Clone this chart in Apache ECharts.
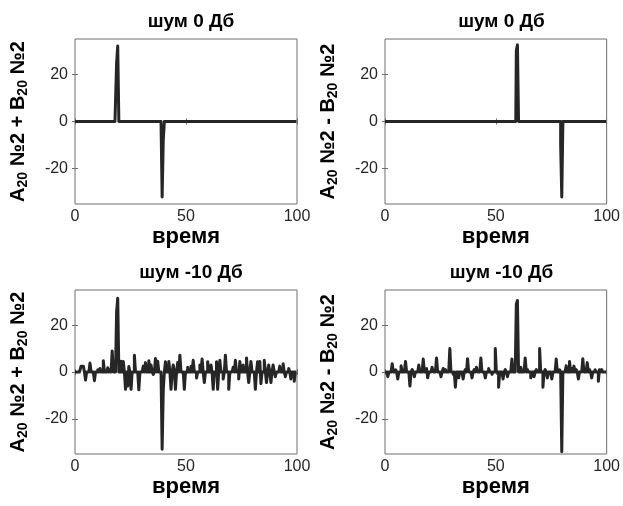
<!DOCTYPE html>
<html><head><meta charset="utf-8">
<script src="https://cdn.jsdelivr.net/npm/echarts@6/dist/echarts.min.js"></script>
<style>html,body{margin:0;padding:0;background:#fff}#c{width:623px;height:506px}</style>
</head><body><div id="c"></div>
<script>
// sampling grid: 0..100 every 0.5 time units
const timeSamples = Array.from({length: 201}, (_, i) => i * 0.5);

// non-zero samples [time, value]; all other samples are 0
// top-left: noise 0 dB, A + B
const sumCleanPulses = [[19, 25], [19.5, 32], [39.5, -32], [40, -8]];
// top-right: noise 0 dB, A - B
const diffCleanPulses = [[59.5, 30], [60, 32.5], [79.5, -10], [80, -32]];
// bottom-left: noise -10 dB, A + B
const sumNoisyPulses = [
  [3, 2.5], [3.5, 2.5], [4, 2.5], [5, -3.4], [7, 3.8], [9, -3.7], [10.5, 1], [11.5, 1.5],
  [13, 4.8], [15, 1.8], [16, 1], [17, 9], [19, 26], [19.5, 31.5], [21, 4.6], [22, 4.5],
  [23, -7.4], [24, -6], [24.5, 2.3], [25.5, -7.4], [27, 7.2], [29, -7.6], [31, 2.5],
  [32, 4], [33.5, 4.8], [34.5, 3], [35.5, -1], [36.5, 5.8], [37.5, 4.6], [39.5, -33],
  [40, -8], [41, 4.4], [42.5, 4.5], [43.5, -7.4], [44.5, 3], [45.5, -7.4], [46.5, 4],
  [47.5, 7.2], [49.5, -7.4], [51, 2], [52.5, 2.5], [53.5, 5], [55, -2.6], [56.5, 3],
  [57.5, 5.5], [58.5, -4.5], [60, 4.4], [61.5, 3], [62.5, -7.4], [64, 4.4], [64.5, -7.4],
  [65.5, 5], [67, -3], [68, 7.2], [69.5, -7.4], [71.5, 2], [72.5, 5], [74, -3], [74.5, 4.5],
  [76, 3], [77.5, 6], [78.5, -4.5], [79.5, 4.5], [81.5, -7.4], [82.5, 4.4], [83.5, 4.5],
  [84, -5], [85.5, 5], [86.5, -4.5], [87.5, 3], [88.5, -4.5], [89.5, 3], [90.5, -2],
  [92.5, 2.5], [94, 3.5], [95, -2], [96.5, 1.5], [97.5, -3], [99, -4]
];
// bottom-right: noise -10 dB, A - B
const diffNoisyPulses = [
  [1.5, -2], [3.5, 3.5], [5, 1], [6, -3], [7.5, 2.7], [9.5, 4.5], [11.5, -6], [12.5, 1],
  [13.5, -2], [15.5, 3], [17.5, 5.5], [19, 1.5], [19.5, -2.5], [21.5, 2], [23.5, 6],
  [25.5, -2], [26.5, 1.5], [27.5, 1], [29.5, 10], [31, -1], [32, -6.5], [33.5, -2.5],
  [35.5, -3], [36.5, 1], [37.5, 5.7], [39.5, -2.5], [40.5, 1], [41.5, 2], [43.5, 6],
  [45.5, -2.5], [47, 1.5], [48.5, -1], [50, 10], [51.5, -6.5], [53.5, -3], [54.5, 1],
  [55.5, -2], [57.5, 5.5], [59.5, 29], [60, 30.5], [61.5, 2], [63.5, 6], [64.5, 1],
  [66, -2.5], [67.5, -2], [68.5, 1], [70, 10], [71.5, -6.5], [72.5, 1], [73.5, -2.5],
  [75.5, -3], [77.5, 5.5], [79, 1], [80, -34], [82, 2.7], [83.5, 4.5], [84.5, 1.5],
  [85.5, 2.5], [86.5, 1], [87.5, -3], [89.5, 5.7], [91.5, 4], [92.5, 1], [93.5, -2.5],
  [95, 1], [96.5, -4], [97, 1], [98, 1]
];

const xTicks = [0, 50, 100];
const yTicks = [-20, 0, 20];
const titles = ['шум 0 Дб', 'шум 0 Дб', 'шум -10 Дб', 'шум -10 Дб'];
const yNames = [
  '{m|A}{s|20}{m| №2 + B}{s|20}{m| №2}',
  '{m|A}{s|20}{m| №2 - B}{s|20}{m| №2}',
  '{m|A}{s|20}{m| №2 + B}{s|20}{m| №2}',
  '{m|A}{s|20}{m| №2 - B}{s|20}{m| №2}'
];
const xName = 'время';
const panelPulses = [sumCleanPulses, diffCleanPulses, sumNoisyPulses, diffNoisyPulses];

function toSeries(pulses) {
  const vals = timeSamples.map(() => 0);
  pulses.forEach(([t, v]) => { vals[Math.round(t * 2)] = v; });
  return timeSamples.map((t, k) => [t, vals[k]]);
}

const FONT = '"Liberation Sans", Arial, sans-serif';
const TXT = '#262626';
const grids = [
  {left: 75, top: 39, width: 222, height: 165},
  {left: 385, top: 39, width: 223, height: 165},
  {left: 75, top: 290, width: 222, height: 164},
  {left: 385, top: 290, width: 223, height: 164}
];

const option = {
  animation: false,
  backgroundColor: '#fff',
  title: [], grid: [], xAxis: [], yAxis: [], series: []
};

grids.forEach((g, i) => {
  option.grid.push(Object.assign({show: true, borderColor: '#6e6e6e', borderWidth: 1, backgroundColor: '#fff', containLabel: false}, g));
  option.title.push({
    text: titles[i], left: g.left + g.width / 2, top: g.top - 32, textAlign: 'center',
    textStyle: {fontFamily: FONT, fontWeight: 'bold', fontSize: 19, color: '#000'}
  });
  option.xAxis.push({
    type: 'value', gridIndex: i, min: 0, max: 100, position: 'bottom',
    name: xName, nameLocation: 'middle', nameGap: 22,
    nameTextStyle: {fontFamily: FONT, fontWeight: 'bold', fontSize: 22, color: '#000'},
    axisLine: {show: false}, splitLine: {show: false},
    axisTick: {show: true, inside: true, length: 3, customValues: xTicks, lineStyle: {color: '#6e6e6e'}},
    axisLabel: {show: true, customValues: xTicks, margin: 5, fontFamily: FONT, fontSize: 16, color: TXT}
  });
  option.xAxis.push({
    type: 'value', gridIndex: i, min: 0, max: 100, position: 'top',
    axisLine: {show: false}, splitLine: {show: false},
    axisTick: {show: true, inside: true, length: 3, customValues: xTicks, lineStyle: {color: '#6e6e6e'}},
    axisLabel: {show: false}
  });
  option.yAxis.push({
    type: 'value', gridIndex: i, min: -35, max: 35, position: 'left',
    name: yNames[i], nameLocation: 'middle', nameGap: 45, nameRotate: 90,
    nameTextStyle: {
      fontFamily: FONT, fontWeight: 'bold', color: '#000',
      rich: {
        m: {fontFamily: FONT, fontWeight: 'bold', fontSize: 20, color: '#000', lineHeight: 24, verticalAlign: 'middle'},
        s: {fontFamily: FONT, fontWeight: 'bold', fontSize: 14, color: '#000', lineHeight: 24, verticalAlign: 'bottom', padding: [8, 0, 0, 0]}
      }
    },
    axisLine: {show: false}, splitLine: {show: false},
    axisTick: {show: true, inside: true, length: 3, customValues: yTicks, lineStyle: {color: '#6e6e6e'}},
    axisLabel: {show: true, customValues: yTicks, margin: 7, fontFamily: FONT, fontSize: 16, color: TXT}
  });
  option.yAxis.push({
    type: 'value', gridIndex: i, min: -35, max: 35, position: 'right',
    axisLine: {show: false}, splitLine: {show: false},
    axisTick: {show: true, inside: true, length: 3, customValues: yTicks, lineStyle: {color: '#6e6e6e'}},
    axisLabel: {show: false}
  });
  option.series.push({
    type: 'line', xAxisIndex: 2 * i, yAxisIndex: 2 * i, step: 'middle',
    data: toSeries(panelPulses[i]),
    showSymbol: false, clip: true,
    lineStyle: {color: '#262626', width: 3, join: 'round', cap: 'butt'}
  });
});

const chart = echarts.init(document.getElementById('c'), null, {renderer: 'canvas'});
chart.setOption(option);
</script>
</body></html>
